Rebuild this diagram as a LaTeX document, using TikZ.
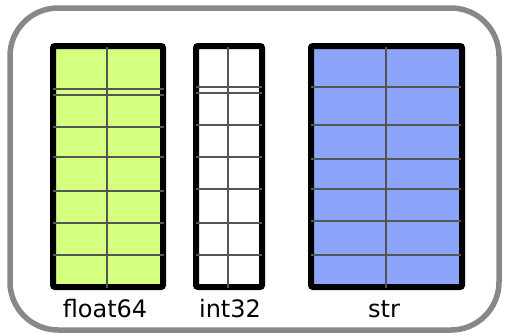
\documentclass[tikz,border=0pt]{standalone}
\usepackage{fontspec}
\setmainfont{DejaVu Sans}
\definecolor{fgreen}{HTML}{D4FF7F}
\definecolor{fblue}{HTML}{8CA4FA}
\definecolor{framegray}{HTML}{888888}
\definecolor{gridgray}{HTML}{555555}
\begin{document}
\begin{tikzpicture}[x=1pt,y=-1pt,
  frame/.style={draw=framegray,line width=5.5pt,rounded corners=48pt},
  colbox/.style={draw=black,line width=6pt,rounded corners=2pt},
  gridline/.style={draw=gridgray,line width=2pt},
  lab/.style={font=\fontsize{24}{28}\selectfont,anchor=base,inner sep=0pt}]
\useasboundingbox (0,0) rectangle (505,335);
\draw[frame] (10,8) rectangle (499,330);
% float64
\path[colbox,fill=fgreen] (53,46) rectangle (163,287);
\foreach \y in {89,95,127,157,191,223,255}
  \draw[gridline] (53,\y) -- (164,\y);
\draw[gridline] (107,47) -- (107,288);
% int32
\path[colbox,fill=white] (196,46) rectangle (262,287);
\foreach \y in {87,93,125,157,189,223,255}
  \draw[gridline] (196,\y) -- (262,\y);
\draw[gridline] (228,47) -- (228,288);
% str
\path[colbox,fill=fblue] (311,46) rectangle (462,287);
\foreach \y in {87,125,159,189,221,255}
  \draw[gridline] (311,\y) -- (461,\y);
\draw[gridline] (386,47) -- (386,288);
% labels
\node[lab] (lf) at (105,317) {float64};
\node[lab] (li) at (230,317) {int32};
\node[lab] (ls) at (384,317) {str};
\end{tikzpicture}
\end{document}
